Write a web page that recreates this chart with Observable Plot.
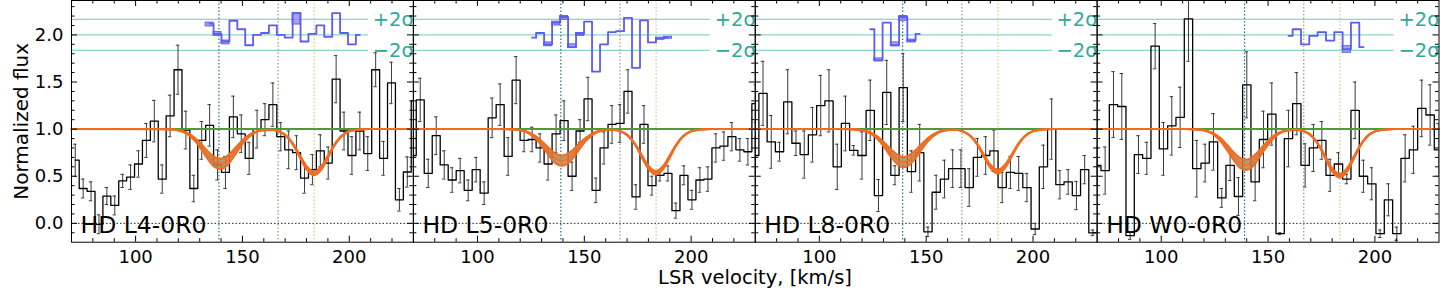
<!DOCTYPE html>
<html><head><meta charset="utf-8">
<script src="https://cdn.jsdelivr.net/npm/d3@7"></script>
<script src="https://cdn.jsdelivr.net/npm/@observablehq/plot@0.6"></script>
<style>
html,body{margin:0;padding:0;background:#fff;}
body{width:1440px;height:288px;overflow:hidden;font-family:"DejaVu Sans",sans-serif;}
#chart{height:266px;}
#xl{width:1370px;margin-left:70px;margin-top:3px;height:18px;line-height:18px;font-size:19.5px;text-align:center;color:#000;white-space:nowrap;}
</style></head>
<body>
<div id="chart"></div>
<div id="xl">LSR velocity, [km/s]</div>
<script>
// ---------- data ----------
const panels = ["HD L4-0R0", "HD L5-0R0", "HD L8-0R0", "HD W0-0R0"];
const binStart = [69.9, 67.6, 67.84, 67.9];   // left edge of first bin, km/s
const binWidth = [3.70, 3.74, 3.86, 3.90];    // km/s

const flux_L4 = [0.67, 0.37, 0.34, -0.01, 0.29, 0.19, 0.45, 0.49, 0.63, 0.88, 1.085, 0.47, 1.14, 1.63, 0.99, 0.37, 0.88, 1.04, 0.62, 0.54, 1.13, 0.95, 0.69, 1.0, 1.10, 1.26, 0.92, 0.78, 0.75, 0.48, 0.57, 0.77, 0.64, 1.53, 0.98, 0.72, 0.98, 0.74, 1.63, 0.69, 1.49, 0.25, 0.545, 1.30];
const err_L4  = [0.17, 0.1, 0.1, 0.1, 0.09, 0.1, 0.07, 0.13, 0.14, 0.18, 0.22, 0.15, 0.22, 0.26, 0.2, 0.14, 0.2, 0.22, 0.16, 0.17, 0.22, 0.2, 0.17, 0.2, 0.17, 0.23, 0.15, 0.2, 0.18, 0.16, 0.16, 0.17, 0.17, 0.25, 0.2, 0.2, 0.2, 0.18, 0.18, 0.18, 0.22, 0.12, 0.16, 0.2];

const flux_L5 = [0.72, 1.31, 0.53, 0.93, 0.62, 0.46, 0.56, 0.35, 0.57, 0.32, 1.12, 1.26, 0.71, 1.52, 0.88, 0.89, 0.80, 0.63, 0.95, 1.09, 0.50, 0.98, 1.32, 0.35, 0.80, 1.05, 1.06, 1.40, 0.28, 1.05, 0.40, 0.51, 0.53, 0.135, 0.51, 0.25, 0.46, 0.47, 0.80, 0.82, 0.92, 0.78, 0.76, 1.27];
const err_L5  = [0.2, 0.23, 0.15, 0.2, 0.15, 0.13, 0.13, 0.11, 0.13, 0.12, 0.21, 0.22, 0.2, 0.25, 0.12, 0.13, 0.15, 0.17, 0.2, 0.21, 0.15, 0.12, 0.23, 0.13, 0.17, 0.2, 0.2, 0.23, 0.13, 0.2, 0.1, 0.06, 0.08, 0.08, 0.1, 0.1, 0.13, 0.13, 0.15, 0.15, 0.15, 0.12, 0.14, 0.2];

const flux_L8 = [0.72, 1.38, 0.865, 0.76, 1.29, 0.85, 0.73, 0.94, 1.25, 1.30, 0.60, 1.06, 0.775, 0.72, 1.20, 0.295, 1.39, 0.51, 1.44, 0.55, 0.75, -0.09, 0.33, 0.47, 0.58, 0.58, 0.38, 0.70, 0.72, 0.77, 0.38, 0.54, 0.53, 0.38, -0.06, 0.60, 1.0, 0.41, 0.44, 0.295, 0.57, -0.1, -0.08];
const err_L8  = [0.2, 0.34, 0.28, 0.1, 0.34, 0.13, 0.25, 0.29, 0.32, 0.33, 0.24, 0.29, 0.05, 0.25, 0.32, 0.17, 0.34, 0.1, 0.36, 0.22, 0.3, 0.05, 0.18, 0.2, 0.2, 0.2, 0.2, 0.2, 0.2, 0.22, 0.16, 0.17, 0.18, 0.15, 0.06, 0.23, 0.32, 0.15, 0.13, 0.15, 0.15, 0.03, 0.03];

const flux_W0 = [0.615, 0.56, 1.26, 1.24, -0.13, 0.73, 0.69, 1.88, 0.79, 1.035, 1.125, 2.17, 0.58, 0.64, 0.865, 0.27, 0.615, 0.285, 1.47, 0.44, 0.89, 1.16, -0.11, 0.90, 1.27, 0.615, 0.80, 0.88, 0.51, 0.63, 0.47, 1.20, 0.50, 0.42, -0.11, 0.25, -0.11, 0.69, 0.78, 1.22, 1.15, 0.78, 0.9];
const err_W0  = [0.2, 0.25, 0.35, 0.35, 0.04, 0.2, 0.17, 0.24, 0.28, 0.31, 0.32, 0.45, 0.3, 0.2, 0.3, 0.1, 0.16, 0.2, 0.35, 0.2, 0.3, 0.33, 0.01, 0.3, 0.33, 0.23, 0.25, 0.2, 0.17, 0.12, 0.05, 0.3, 0.17, 0.17, 0.04, 0.17, 0.07, 0.25, 0.25, 0.3, 0.32, 0.28, 0.2];

// residuals (offset to 2.0), first bin index of each residual series
const resStart = [17, 15, 14, 23];
const res_L4 = [2.12, 2.01, 1.93, 2.15, 2.06, 1.89, 2.0, 2.02, 2.10, 2.0, 1.97, 2.23, 1.93, 2.01, 2.10, 1.98, 2.23, 2.02, 1.90, 2.0];
const res_L5 = [1.97, 2.02, 1.90, 2.13, 2.19, 1.87, 2.01, 2.14, 1.61, 1.90, 2.03, 2.04, 2.18, 1.65, 2.155, 1.92, 1.96, 1.97];
const res_L8 = [2.06, 1.73, 2.13, 1.89, 2.19, 1.94, 2.01];
const res_W0 = [1.99, 2.06, 1.90, 1.99, 2.03, 1.94, 2.03, 1.85, 2.13, 1.87];

// residual uncertainty boxes: bin index, low, high
const boxK_L4 = [17, 18, 19, 28], boxLo_L4 = [2.09, 1.99, 1.90, 2.11], boxHi_L4 = [2.13, 2.03, 1.94, 2.23];
const boxK_L5 = [17, 18, 19, 20, 21, 31, 32], boxLo_L5 = [1.88, 2.10, 2.16, 1.86, 1.99, 1.95, 1.96], boxHi_L5 = [1.92, 2.14, 2.20, 1.90, 2.02, 1.97, 1.98];
const boxK_L8 = [15, 17, 18, 19], boxLo_L8 = [1.72, 1.88, 2.15, 1.92], boxHi_L8 = [1.75, 1.92, 2.20, 1.95];
const boxK_W0 = [30], boxLo_W0 = [1.81], boxHi_W0 = [1.88];

// fitted model and its uncertainty band on a common velocity grid
const modelV   = [70, 112, 116, 120, 124, 128, 131, 134, 137, 139.5, 142, 145, 148, 151, 155, 159, 163, 167, 171, 174, 177, 180, 183.5, 187, 190, 193, 196, 200, 205, 209, 230];
const model_L4 = [1.000, 1.000, 0.997, 0.987, 0.956, 0.886, 0.805, 0.717, 0.650, 0.630, 0.650, 0.717, 0.805, 0.886, 0.956, 0.987, 0.993, 0.977, 0.918, 0.828, 0.706, 0.590, 0.530, 0.590, 0.706, 0.828, 0.918, 0.977, 0.997, 1.000, 1.000];
const lo_L4    = [1.000, 0.999, 0.997, 0.986, 0.950, 0.869, 0.776, 0.675, 0.598, 0.575, 0.598, 0.675, 0.776, 0.869, 0.950, 0.985, 0.992, 0.976, 0.914, 0.821, 0.694, 0.572, 0.510, 0.572, 0.694, 0.821, 0.914, 0.976, 0.997, 1.000, 1.000];
const hi_L4    = [1.000, 1.000, 0.998, 0.989, 0.963, 0.903, 0.834, 0.759, 0.702, 0.685, 0.702, 0.759, 0.834, 0.903, 0.963, 0.989, 0.994, 0.978, 0.921, 0.835, 0.719, 0.607, 0.550, 0.607, 0.719, 0.835, 0.921, 0.978, 0.997, 1.000, 1.000];
const model_L5 = [1.000, 1.000, 0.998, 0.989, 0.960, 0.896, 0.824, 0.744, 0.683, 0.665, 0.683, 0.744, 0.824, 0.896, 0.960, 0.988, 0.993, 0.977, 0.919, 0.830, 0.709, 0.594, 0.535, 0.594, 0.709, 0.830, 0.919, 0.977, 0.997, 1.000, 1.000];
const lo_L5    = [1.000, 1.000, 0.997, 0.987, 0.954, 0.880, 0.795, 0.702, 0.631, 0.610, 0.631, 0.702, 0.795, 0.880, 0.954, 0.986, 0.993, 0.976, 0.915, 0.823, 0.697, 0.577, 0.515, 0.577, 0.697, 0.823, 0.915, 0.976, 0.997, 1.000, 1.000];
const hi_L5    = [1.000, 1.000, 0.998, 0.990, 0.967, 0.913, 0.853, 0.786, 0.735, 0.720, 0.735, 0.786, 0.853, 0.913, 0.967, 0.990, 0.994, 0.978, 0.922, 0.837, 0.722, 0.612, 0.555, 0.612, 0.722, 0.837, 0.922, 0.978, 0.997, 1.000, 1.000];
const model_L8 = [1.000, 1.000, 0.997, 0.988, 0.959, 0.892, 0.816, 0.733, 0.669, 0.650, 0.669, 0.733, 0.816, 0.892, 0.959, 0.988, 0.993, 0.978, 0.921, 0.835, 0.719, 0.607, 0.550, 0.607, 0.719, 0.835, 0.921, 0.978, 0.997, 1.000, 1.000];
const lo_L8    = [1.000, 1.000, 0.997, 0.986, 0.952, 0.875, 0.787, 0.691, 0.617, 0.595, 0.617, 0.691, 0.787, 0.875, 0.952, 0.986, 0.993, 0.977, 0.918, 0.828, 0.706, 0.590, 0.530, 0.590, 0.706, 0.828, 0.918, 0.977, 0.997, 1.000, 1.000];
const hi_L8    = [1.000, 1.000, 0.998, 0.990, 0.965, 0.909, 0.845, 0.775, 0.721, 0.705, 0.721, 0.775, 0.845, 0.909, 0.965, 0.990, 0.994, 0.979, 0.925, 0.843, 0.731, 0.625, 0.570, 0.625, 0.731, 0.843, 0.925, 0.979, 0.998, 1.000, 1.000];
const model_W0 = [1.000, 1.000, 0.997, 0.987, 0.955, 0.883, 0.800, 0.710, 0.641, 0.620, 0.641, 0.710, 0.800, 0.883, 0.955, 0.987, 0.993, 0.976, 0.913, 0.819, 0.691, 0.568, 0.505, 0.568, 0.691, 0.819, 0.913, 0.976, 0.997, 1.000, 1.000];
const lo_W0    = [1.000, 1.000, 0.997, 0.985, 0.949, 0.866, 0.771, 0.668, 0.589, 0.565, 0.589, 0.668, 0.771, 0.866, 0.949, 0.985, 0.992, 0.975, 0.910, 0.812, 0.678, 0.550, 0.485, 0.550, 0.678, 0.812, 0.910, 0.975, 0.997, 1.000, 1.000];
const hi_W0    = [1.000, 1.000, 0.998, 0.989, 0.962, 0.900, 0.829, 0.752, 0.693, 0.675, 0.693, 0.752, 0.829, 0.900, 0.962, 0.988, 0.993, 0.977, 0.917, 0.826, 0.703, 0.585, 0.525, 0.585, 0.703, 0.826, 0.917, 0.977, 0.997, 1.000, 1.000];

const velLines = [139.0, 166.7, 183.6];      // component velocities
const sigmaLevels = [2.165, 2.0, 1.835];
const sigmaLabels = ["+2σ", "−2σ"];
const sigmaLabelY = [2.165, 1.835];
const xTickLabels = [100, 150, 200];
const xMinor = [80, 90, 110, 120, 130, 140, 160, 170, 180, 190, 210, 220];
const yTickLabels = [0, 0.5, 1, 1.5, 2];
const yMinor = [-0.1, 0.1, 0.2, 0.3, 0.4, 0.6, 0.7, 0.8, 0.9, 1.1, 1.2, 1.3, 1.4, 1.6, 1.7, 1.8, 1.9, 2.1, 2.2, 2.3];

// ---------- tables ----------
const fluxes = [flux_L4, flux_L5, flux_L8, flux_W0];
const errs = [err_L4, err_L5, err_L8, err_W0];
const resids = [res_L4, res_L5, res_L8, res_W0];
const boxKs = [boxK_L4, boxK_L5, boxK_L8, boxK_W0];
const boxLos = [boxLo_L4, boxLo_L5, boxLo_L8, boxLo_W0];
const boxHis = [boxHi_L4, boxHi_L5, boxHi_L8, boxHi_W0];
const models = [model_L4, model_L5, model_L8, model_W0];
const los = [lo_L4, lo_L5, lo_L8, lo_W0];
const his = [hi_L4, hi_L5, hi_L8, hi_W0];

const center = (i, k) => binStart[i] + binWidth[i] * (k + 0.5);
const hist = panels.flatMap((p, i) => fluxes[i].map((y, k) => ({panel: p, x: center(i, k), y, e: errs[i][k]})));
const resid = panels.flatMap((p, i) => resids[i].map((y, j) => ({panel: p, x: center(i, resStart[i] + j), y})));
const boxes = panels.flatMap((p, i) => boxKs[i].map((k, j) => ({
  panel: p, x1: binStart[i] + binWidth[i] * k, x2: binStart[i] + binWidth[i] * (k + 1), y1: boxLos[i][j], y2: boxHis[i][j]})));
const model = panels.flatMap((p, i) => modelV.map((v, j) => ({panel: p, x: v, m: models[i][j], lo: los[i][j], hi: his[i][j]})));

// ---------- plot ----------
const W = 1440, H = 266, ML = 71, MR = 1.5, MB = 24.3;
const FW = (W - ML - MR) / 4, FH = H - MB;
const ORANGE = "#f26b1f";
const BLUE = "#5c5cf0";
const TEAL_LINE = "#8ad4ca";
const TEAL_TEXT = "#2fa898";

const chart = Plot.plot({
  width: W, height: H,
  marginLeft: ML, marginRight: MR, marginTop: 0, marginBottom: MB,
  style: {fontFamily: "DejaVu Sans", fontSize: "18px", background: "white", overflow: "visible", color: "black"},
  x: {domain: [70, 230]},
  y: {domain: [-0.2, 2.365]},
  fx: {domain: panels, paddingInner: 0, paddingOuter: 0, round: false, axis: null},
  marks: [
    Plot.ruleY(sigmaLevels, {y: d => d, x1: 70, x2: 209, stroke: TEAL_LINE, strokeWidth: 1.2}),
    Plot.text(sigmaLabels, {x: 211, y: (d, i) => sigmaLabelY[i], text: d => d, textAnchor: "start", lineAnchor: "middle", fill: TEAL_TEXT, fontSize: 19.5}),
    Plot.ruleY([0], {stroke: "#222", strokeWidth: 1, strokeDasharray: "1.5,2"}),
    Plot.ruleX([velLines[0]], {x: d => d, stroke: "#2a6f8c", strokeWidth: 1.2, strokeDasharray: "1.5,2"}),
    Plot.ruleX([velLines[1]], {x: d => d, stroke: "#9c9c72", strokeWidth: 1.2, strokeDasharray: "1.5,2"}),
    Plot.ruleX([velLines[2]], {x: d => d, stroke: "#cfcf8a", strokeWidth: 1.2, strokeDasharray: "1.5,2"}),
    // data histogram + errors
    Plot.ruleX(hist, {fx: "panel", x: "x", y1: d => d.y - d.e, y2: d => d.y + d.e, stroke: "#3a3a3a", strokeWidth: 1, clip: true}),
    Plot.ruleY(hist, {fx: "panel", y: d => d.y + d.e, x1: d => d.x - 0.8, x2: d => d.x + 0.8, stroke: "#3a3a3a", strokeWidth: 1, clip: true}),
    Plot.ruleY(hist, {fx: "panel", y: d => d.y - d.e, x1: d => d.x - 0.8, x2: d => d.x + 0.8, stroke: "#3a3a3a", strokeWidth: 1, clip: true}),
    Plot.line(hist, {fx: "panel", x: "x", y: "y", curve: "step", stroke: "black", strokeWidth: 1.3, clip: true}),
    // continuum + model
    Plot.ruleY([1], {stroke: "#4f9a33", strokeWidth: 2}),
    Plot.areaY(model, {fx: "panel", x: "x", y1: "lo", y2: "hi", curve: "monotone-x", fill: "#b8824e", fillOpacity: 0.85}),
    Plot.line(model, {fx: "panel", x: "x", y: "lo", curve: "monotone-x", stroke: ORANGE, strokeWidth: 2}),
    Plot.line(model, {fx: "panel", x: "x", y: "hi", curve: "monotone-x", stroke: ORANGE, strokeWidth: 2}),
    Plot.line(model, {fx: "panel", x: "x", y: "m", curve: "monotone-x", stroke: ORANGE, strokeWidth: 2, strokeOpacity: 0.7}),
    // residuals
    Plot.rect(boxes, {fx: "panel", x1: "x1", x2: "x2", y1: "y1", y2: "y2", fill: "#7f7ff2", fillOpacity: 0.7, stroke: BLUE, strokeWidth: 1}),
    Plot.line(resid, {fx: "panel", x: "x", y: "y", curve: "step", stroke: BLUE, strokeWidth: 1.8}),
    // frame and inward ticks
    Plot.frame({stroke: "black", strokeWidth: 1}),
    Plot.ruleX(xTickLabels, {x: d => d, insetTop: FH - 6, stroke: "black"}),
    Plot.ruleX(xTickLabels, {x: d => d, insetBottom: FH - 6, stroke: "black"}),
    Plot.ruleX(xMinor, {x: d => d, insetTop: FH - 3.5, stroke: "black"}),
    Plot.ruleX(xMinor, {x: d => d, insetBottom: FH - 3.5, stroke: "black"}),
    Plot.ruleY(yTickLabels, {y: d => d, insetRight: FW - 6, stroke: "black"}),
    Plot.ruleY(yTickLabels, {y: d => d, insetLeft: FW - 6, stroke: "black"}),
    Plot.ruleY(yMinor, {y: d => d, insetRight: FW - 3.5, stroke: "black"}),
    Plot.ruleY(yMinor, {y: d => d, insetLeft: FW - 3.5, stroke: "black"}),
    // axes
    Plot.axisX(xTickLabels, {anchor: "bottom", tickSize: 0, tickPadding: 8, label: null, fontSize: 18}),
    Plot.axisY(yTickLabels, {anchor: "left", tickSize: 0, tickPadding: 8, label: null, tickFormat: d3.format(".1f"), fontSize: 18}),
    Plot.text([{panel: panels[0], t: "Normalized flux"}], {fx: "panel", text: "t", frameAnchor: "left", dx: -50, rotate: -90, textAnchor: "middle", lineAnchor: "middle", fontSize: 20}),
    // panel labels
    Plot.text(panels, {fx: d => d, text: d => d, frameAnchor: "bottom-left", dx: 9, dy: -9, textAnchor: "start", lineAnchor: "bottom", fontSize: 23.5})
  ]
});
document.getElementById("chart").appendChild(chart);
</script>
</body></html>
